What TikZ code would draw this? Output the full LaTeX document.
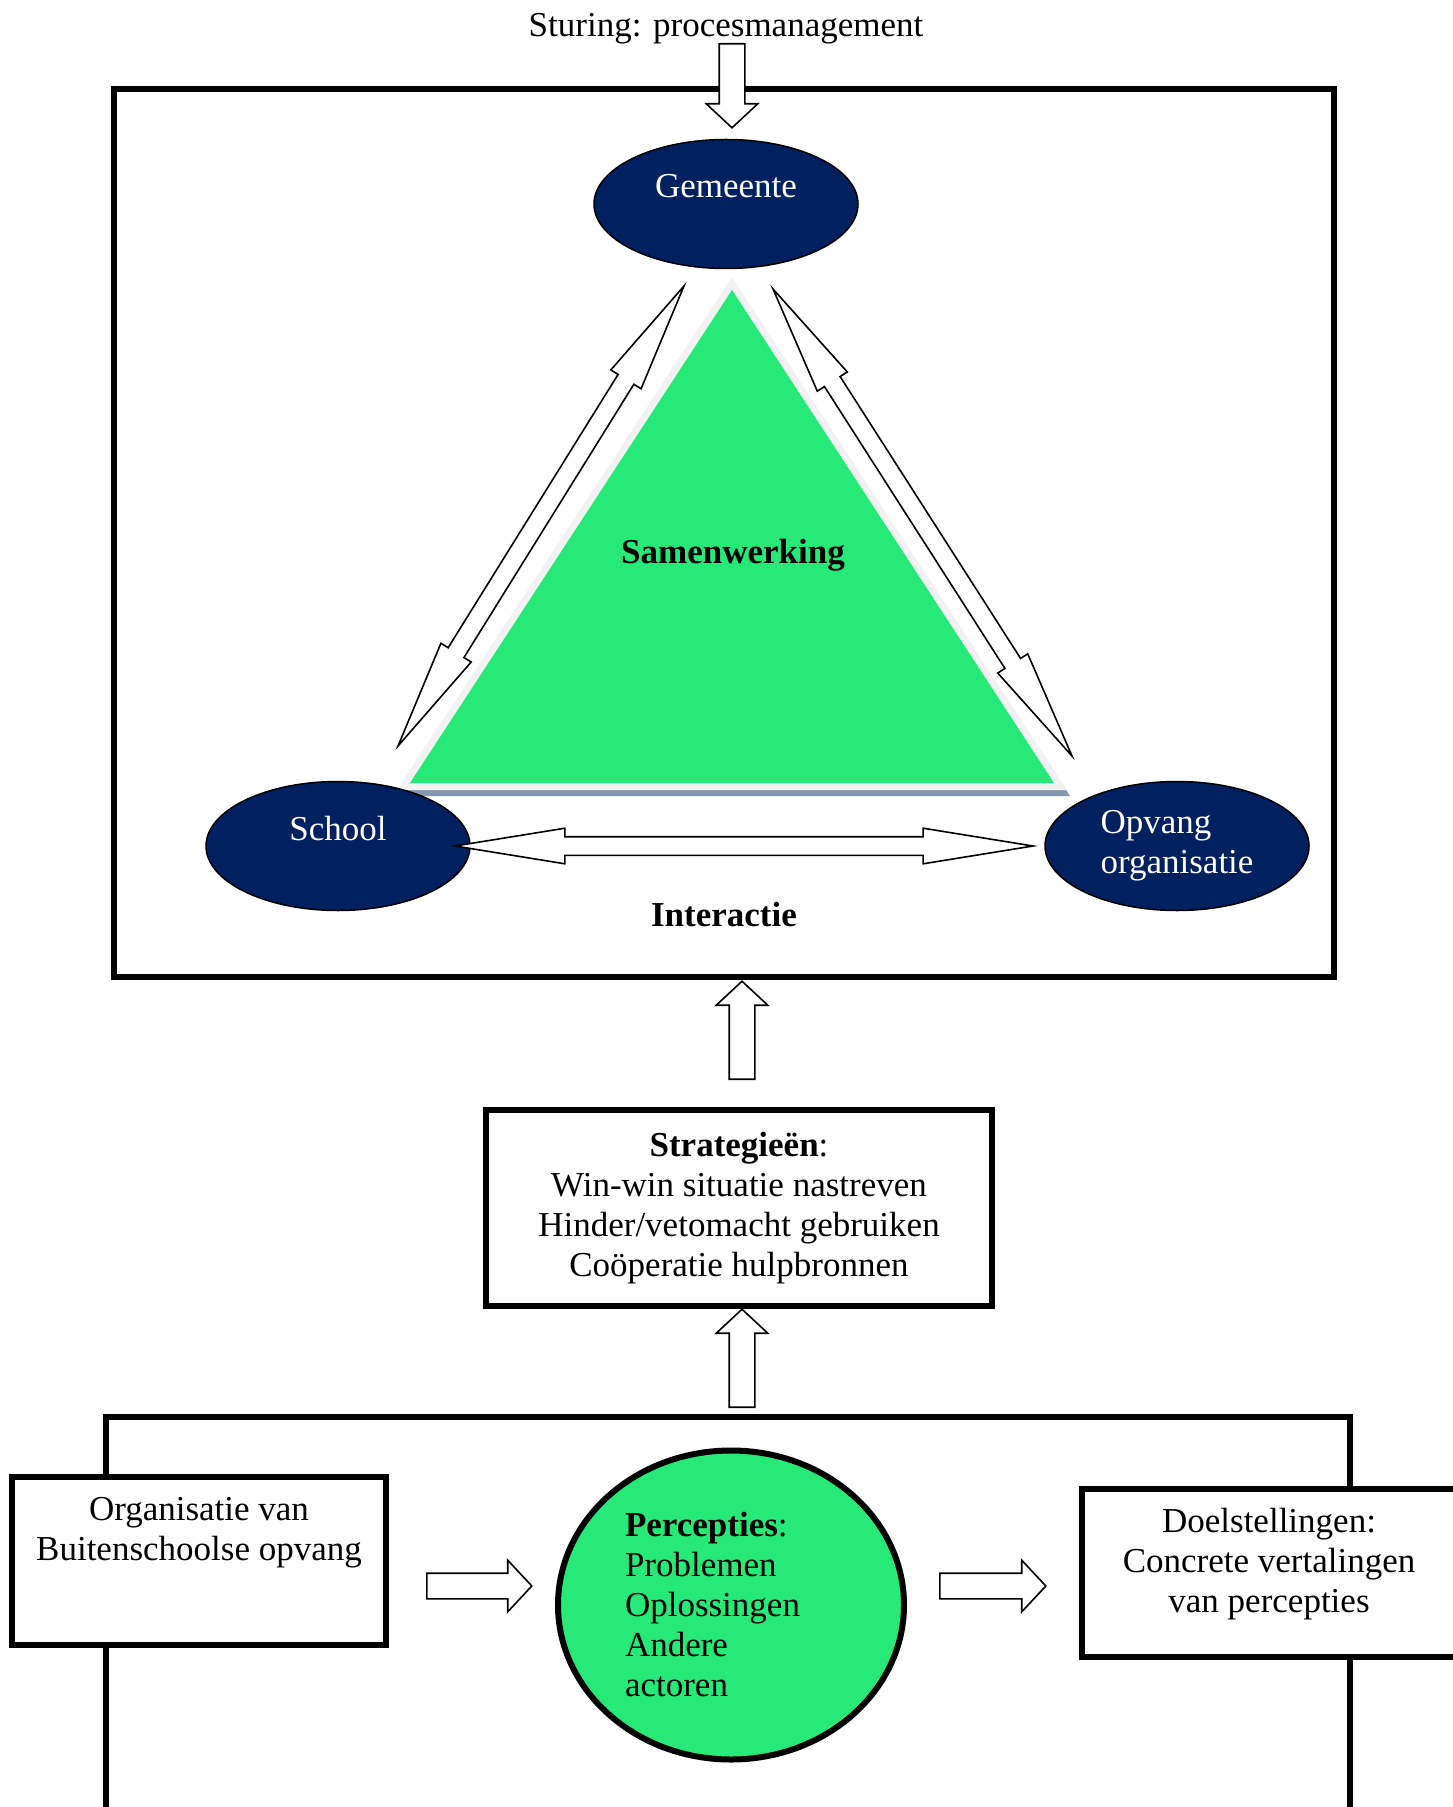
\documentclass[tikz,border=0pt]{standalone}
\usepackage{fontspec}
\setmainfont{Liberation Serif}
\usetikzlibrary{shapes.geometric, shapes.arrows, calc}
\definecolor{navyblue}{RGB}{0, 32, 96}
\definecolor{brightgreen}{RGB}{38, 233, 120}
\definecolor{rimgray}{RGB}{242, 242, 242}
\definecolor{shadowblue}{RGB}{132, 151, 176}
\tikzset{
  txt/.style={font=\fontsize{17.5}{20}\selectfont, inner sep=0pt},
  actor/.style={txt, ellipse, draw=black, line width=0.75pt, fill=navyblue, text=white, minimum width=132pt, minimum height=64.5pt},
  topped/.style={text height=12pt, text depth=18pt},
  panel/.style={draw=black, line width=3pt, fill=white},
  fatarrow/.style={single arrow, draw=black, line width=0.8pt, fill=white, inner xsep=0pt, inner ysep=6pt, minimum width=0pt, single arrow head extend=6.5pt, single arrow tip angle=94},
  fatarrows/.style={double arrow, draw=black, line width=0.8pt, fill=white, inner xsep=0pt, inner ysep=4.25pt, minimum width=0pt, double arrow head extend=4.25pt, double arrow tip angle=18.4},
  blockarrow/.style={to path={let \p1=(\tikztostart), \p2=(\tikztotarget), \n1={atan2(\y2-\y1,\x2-\x1)}, \n2={veclen(\x2-\x1,\y2-\y1)} in node[fatarrow, anchor=tail, rotate=\n1, minimum height=\n2] at (\p1) {}}},
  blockarrows/.style={to path={let \p1=(\tikztostart), \p2=(\tikztotarget), \n1={atan2(\y2-\y1,\x2-\x1)}, \n2={veclen(\x2-\x1,\y2-\y1)} in node[fatarrows, rotate=\n1, minimum height=\n2] at ($(\p1)!0.5!(\p2)$) {}}}
}
\begin{document}
\begin{tikzpicture}[x=0.5pt, y=-0.5pt]
    \path[fill=white, use as bounding box] (0,0) rectangle (1452,1807);
    \draw[line width=3pt] (114,89) rectangle (1334,977);

    \coordinate (triapex) at (732,290);
    \coordinate (trileft) at (410,783);
    \coordinate (triright) at (1054,783);
    \filldraw[shadowblue, line width=7pt] ($(triapex)+(3,6)$) -- ($(trileft)+(3,6)$) -- ($(triright)+(3,6)$) -- cycle;
    \filldraw[rimgray, line width=7pt] (triapex) -- (trileft) -- (triright) -- cycle;
    \fill[brightgreen] (triapex) -- (trileft) -- (triright) -- cycle;
    \node[txt] (samenwerking) at (733,555) {\textbf{Samenwerking}};

    \node[actor, topped] (gemeente) at (726,204) {Gemeente};
    \node[actor, topped] (school) at (338,846) {School};
    \node[actor, align=left] (opvang) at (1177,846) {Opvang\\organisatie};

    \coordinate (gemeenteleft) at (684,286);
    \coordinate (schooltop) at (398,746);
    \coordinate (gemeenteright) at (773,289);
    \coordinate (opvangtop) at (1072,756);
    \coordinate (schoolright) at (455,846);
    \coordinate (opvangleft) at (1033,846);
    \path (gemeenteleft) to[blockarrows] (schooltop);
    \path (gemeenteright) to[blockarrows] (opvangtop);
    \path (schoolright) to[blockarrows] (opvangleft);
    \node[txt] (interactie) at (724,915) {\textbf{Interactie}};

    \node[txt] (sturing) at (726,29) {Sturing: procesmanagement};
    \coordinate (sturingfoot) at (732,43);
    \coordinate (gemeentetop) at (732,127);
    \path (sturingfoot) to[blockarrow] (gemeentetop);

    \coordinate (strategietop) at (742,1080);
    \coordinate (panelbottom) at (742,982);
    \path (strategietop) to[blockarrow] (panelbottom);
    \node[panel, txt, align=center, minimum width=253pt, minimum height=98pt] (strategie) at (739,1208) {\textbf{Strategieën}:\\Win-win situatie nastreven\\Hinder/vetomacht gebruiken\\Coöperatie hulpbronnen};
    \coordinate (lowerpanel) at (742,1408);
    \coordinate (strategiebottom) at (742,1310);
    \path (lowerpanel) to[blockarrow] (strategiebottom);

    \draw[line width=3pt] (106,1830) -- (106,1417) -- (1350,1417) -- (1350,1830);
    \node[panel, minimum width=187pt, minimum height=84pt] (orgbox) at (199,1561) {};
    \node[txt, align=center] (orgtext) at (199,1533) {Organisatie van\\Buitenschoolse opvang};
    \node[panel, minimum width=194pt, minimum height=84pt] (doelbox) at (1276,1573) {};
    \node[txt, align=center] (doeltext) at (1269,1564) {Doelstellingen:\\Concrete vertalingen\\van percepties};
    \node[txt, ellipse, draw=black, line width=3pt, fill=brightgreen, minimum width=173pt, minimum height=154.5pt, text width=106pt, align=left] (percepties) at (731,1605) {\textbf{Percepties}:\\Problemen\\Oplossingen\\Andere\\actoren};

    \coordinate (orgright) at (426,1586);
    \coordinate (perceptiesleft) at (531,1586);
    \coordinate (perceptiesright) at (939,1586);
    \coordinate (doelleft) at (1045,1586);
    \path (orgright) to[blockarrow] (perceptiesleft);
    \path (perceptiesright) to[blockarrow] (doelleft);
\end{tikzpicture}
\end{document}
